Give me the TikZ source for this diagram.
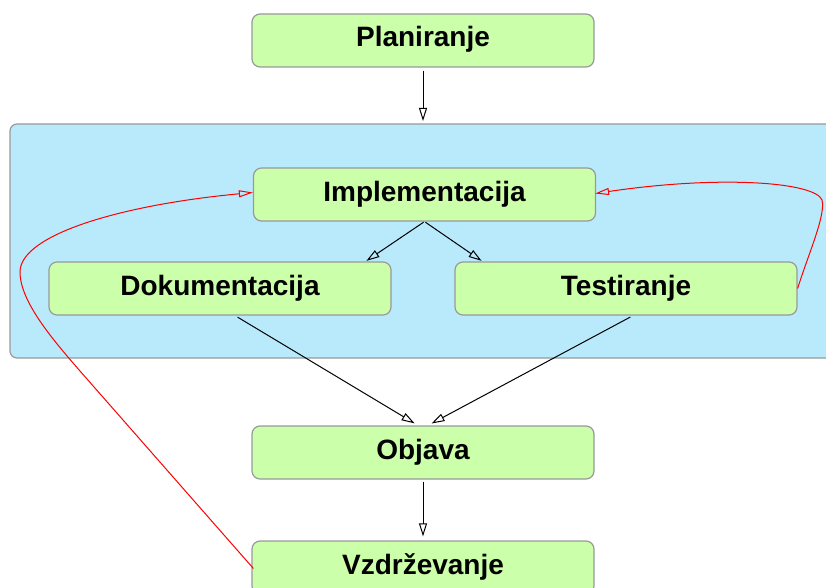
\documentclass[tikz,border=0pt]{standalone}
\usepackage{fontspec}
\setmainfont{Liberation Sans}
\usetikzlibrary{arrows.meta,calc}
\definecolor{boxfill}{HTML}{CCFFAA}
\definecolor{boxline}{HTML}{999999}
\definecolor{groupfill}{HTML}{B9EAFC}
\definecolor{loopred}{HTML}{FF0000}
\begin{document}
\begin{tikzpicture}[x=1pt,y=-1pt,
  box/.style={draw=boxline, fill=boxfill, line width=1.2pt, rounded corners=8pt,
    minimum width=342pt, minimum height=53pt, inner sep=0pt,
    text height=20pt, text depth=7pt,
    font=\fontsize{28}{32}\selectfont\bfseries},
  group/.style={draw=boxline, fill=groupfill, line width=1.2pt, rounded corners=7pt},
  flow/.style={-{Triangle[open,length=13pt,width=8pt]}, line width=1pt, black},
  loop/.style={-{Triangle[open,length=14pt,width=7pt]}, line width=1pt, loopred}
]
\useasboundingbox (0,0) rectangle (826,588);
\clip (0,0) rectangle (826,588);

% development phase group
\path[group] (10,124) rectangle (845,358);
\coordinate (grouptop) at (423,124);

% phases
\node[box] (plan) at (423,40.5) {Planiranje};
\node[box] (impl) at (424.5,194.5) {Implementacija};
\node[box] (dok)  at (220,288.5) {Dokumentacija};
\node[box] (test) at (626,288.5) {Testiranje};
\node[box] (obj)  at (423,452.5) {Objava};
\node[box] (vzd)  at (423,567.5) {Vzdrževanje};

% main flow
\draw[flow, shorten <=3pt, shorten >=3pt] (plan.south) -- (plan.south |- grouptop);
\draw[flow, shorten <=1pt, shorten >=1pt] (impl.south) -- ($(dok.north east)+(-26,0)$);
\draw[flow, shorten <=1pt, shorten >=1pt] (impl.south) -- ($(test.north west)+(28,0)$);
\draw[flow, shorten <=3pt, shorten >=4pt] ($(dok.south)+(15,0)$) -- ($(obj.north)+(-5,0)$);
\draw[flow, shorten <=3pt, shorten >=4pt] ($(test.south)+(7,0)$) -- ($(obj.north)+(5,0)$);
\draw[flow, shorten <=2pt, shorten >=4pt] (obj.south) -- (vzd.north);

% feedback loops
\draw[loop] ($(vzd.west)+(2,1)$) -- (80,371)
  .. controls (54,341) and (20,302) .. (20,272)
  .. controls (20,235) and (120,205) .. ($(impl.west)+(0,-2)$);
\draw[loop] (test.east)
  .. controls (808,255) and (826,215) .. (822,200)
  .. controls (815,182) and (720,175) .. ($(impl.east)+(-1,-1)$);
\end{tikzpicture}
\end{document}
